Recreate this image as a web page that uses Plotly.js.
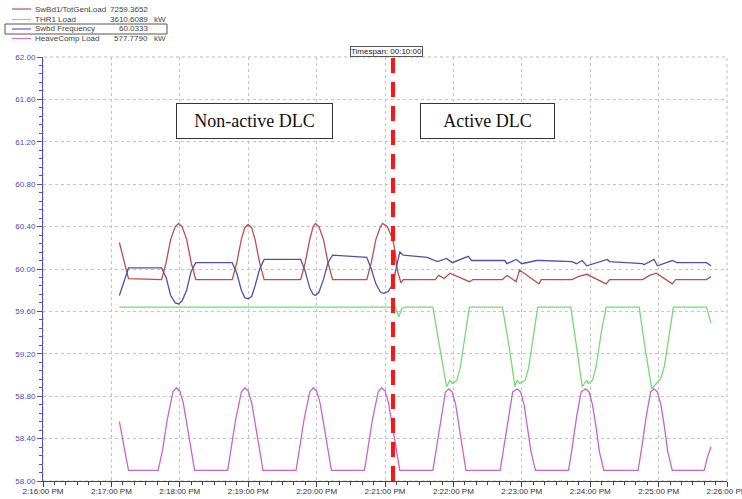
<!DOCTYPE html>
<html>
<head>
<meta charset="utf-8">
<script src="https://cdn.plot.ly/plotly-3.0.1.min.js"></script>
<style>html,body{margin:0;padding:0;background:#fff;}#chart{width:742px;height:499px;}</style>
</head>
<body>
<div id="chart"></div>
<script>
// ---- Data (time in seconds after 2:16:00 PM) ----
const seriesNames = ["SwBd1/TotGenLoad", "THR1 Load", "Swbd Frequency", "HeaveComp Load"];
const legendValues = ["7259.3652", "3610.6089", "60.0333", "577.7790"];
const legendUnits = ["", "kW", "", "kW"];
const axisStartSec = 0;
const axisEndSec = 600;
const dlcSwitchSec = 307;
const phaseLabels = ["Non-active DLC", "Active DLC"];
const timespanLabel = "Timespan: 00:10:00";

const redT = [67, 75, 104, 108, 112, 116, 119, 122, 126, 130, 134,
  166, 170, 174, 177, 180, 183, 186, 190, 194,
  226, 230, 234, 237, 239, 242, 246, 250, 254,
  284, 288, 292, 296, 298, 302, 306, 308, 311, 314, 316,
  344, 347, 352, 357, 374, 377, 403, 407, 415, 418, 435, 437, 464, 470, 477, 494, 497, 526, 532, 538, 552, 555, 582, 586];
const redV = [60.25, 59.91, 59.90, 60.06, 60.28, 60.40, 60.43, 60.40, 60.28, 60.06, 59.90,
  59.90, 60.06, 60.28, 60.39, 60.42, 60.39, 60.28, 60.06, 59.90,
  59.90, 60.06, 60.28, 60.40, 60.43, 60.40, 60.28, 60.06, 59.90,
  59.90, 60.06, 60.28, 60.40, 60.43, 60.40, 60.30, 60.22, 59.98, 59.87, 59.90,
  59.90, 59.94, 59.91, 59.96, 59.88, 59.90, 59.90, 59.94, 59.88, 59.99, 59.86, 59.90, 59.90, 59.93, 59.95, 59.86, 59.90, 59.90, 59.94, 59.96, 59.86, 59.90, 59.90, 59.93];

const greenT = [67, 309, 312, 315, 318, 342, 348, 354, 357, 359, 363, 366, 368, 371, 374,
  403, 409, 414, 416, 418, 423, 426, 428, 431, 434,
  463, 468, 473, 477, 478, 482, 485, 487, 490, 494,
  523, 528, 534, 538, 542, 545, 547, 550, 553, 582, 586];
const greenV = [59.64, 59.64, 59.55, 59.63, 59.64, 59.64, 59.26, 58.89, 58.95, 58.92, 58.95, 59.07, 59.21, 59.42, 59.64,
  59.64, 59.26, 58.89, 58.95, 58.92, 58.95, 59.07, 59.21, 59.42, 59.64,
  59.64, 59.26, 58.89, 58.95, 58.92, 58.95, 59.07, 59.21, 59.42, 59.64,
  59.64, 59.26, 58.87, 58.92, 58.97, 59.08, 59.21, 59.42, 59.64, 59.64, 59.49];

const blueT = [67, 75, 104, 108, 112, 116, 119, 122, 126, 130, 134,
  166, 170, 174, 177, 180, 183, 186, 190, 194,
  226, 230, 234, 237, 239, 242, 246, 250, 254,
  284, 288, 292, 296, 299, 303, 307, 310, 313, 316, 337, 346, 354, 359, 373, 376, 405, 407, 415, 420, 433, 437, 464, 468, 473, 477, 495, 497, 526, 527, 536, 539, 552, 556, 582, 586];
const blueV = [59.75, 60.01, 60.01, 59.92, 59.75, 59.68, 59.67, 59.70, 59.80, 59.98, 60.06,
  60.06, 59.96, 59.80, 59.73, 59.72, 59.74, 59.84, 60.00, 60.09,
  60.09, 59.98, 59.82, 59.76, 59.75, 59.78, 59.90, 60.06, 60.13,
  60.11, 60.00, 59.86, 59.78, 59.77, 59.79, 59.86, 60.02, 60.16, 60.13, 60.11, 60.07, 60.10, 60.06, 60.12, 60.08, 60.08, 60.05, 60.09, 60.05, 60.08, 60.08, 60.07, 60.05, 60.08, 60.03, 60.09, 60.07, 60.05, 60.04, 60.09, 60.03, 60.08, 60.06, 60.06, 60.03];

const magT = [67, 75,
  101, 105, 109, 114, 117, 120, 123, 126, 130, 133,
  162, 165, 169, 174, 177, 180, 183, 186, 190, 193,
  222, 225, 229, 234, 237, 240, 243, 246, 250, 253,
  282, 285, 289, 294, 297, 300, 303, 306, 310, 313,
  342, 345, 349, 353, 356, 359, 362, 365, 368, 371,
  401, 404, 408, 412, 416, 419, 422, 425, 428, 432,
  461, 464, 468, 472, 476, 479, 482, 485, 488, 492,
  522, 525, 529, 533, 536, 539, 542, 545, 548, 552,
  580, 583, 586];
const magV = [58.56, 58.10,
  58.10, 58.30, 58.58, 58.84, 58.88, 58.85, 58.74, 58.55, 58.30, 58.10,
  58.10, 58.30, 58.58, 58.84, 58.88, 58.85, 58.74, 58.55, 58.30, 58.10,
  58.10, 58.30, 58.58, 58.84, 58.88, 58.85, 58.74, 58.55, 58.30, 58.10,
  58.10, 58.30, 58.58, 58.84, 58.88, 58.85, 58.74, 58.55, 58.30, 58.10,
  58.10, 58.30, 58.60, 58.84, 58.87, 58.84, 58.72, 58.52, 58.28, 58.10,
  58.10, 58.30, 58.60, 58.84, 58.87, 58.84, 58.72, 58.52, 58.28, 58.10,
  58.10, 58.30, 58.60, 58.84, 58.87, 58.84, 58.72, 58.52, 58.28, 58.10,
  58.10, 58.30, 58.60, 58.84, 58.87, 58.84, 58.72, 58.52, 58.28, 58.10,
  58.10, 58.23, 58.32];

// ---- Helpers ----
function pad(n) { return (n < 10 ? "0" : "") + n; }
function toTime(s) {
  const tot = 16 * 60 + s;
  const m = Math.floor(tot / 60);
  const sec = Math.round(tot - m * 60);
  return "2024-01-01 14:" + pad(m) + ":" + pad(sec);
}
const W = 742, H = 499, L = 43, R = 15, T = 57, B = 18;
const PW = W - L - R, PH = H - T - B;
function px(x) { return (x - L) / PW; }
function py(y) { return (H - B - y) / PH; }

const colors = ["#bf4c4c", "#74dc74", "#5050b4", "#cc62d0"];
const legendColors = ["#c0504d", "#7fdc7f", "#5f5fb8", "#d070d8"];

const seriesT = [redT, greenT, blueT, magT];
const seriesV = [redV, greenV, blueV, magV];

const traces = seriesNames.map((name, i) => ({
  type: "scatter",
  mode: "lines",
  name: name,
  x: seriesT[i].map(toTime),
  y: seriesV[i],
  line: { color: colors[i], width: 1.3 },
  hoverinfo: "skip",
  showlegend: false
}));

const shapes = [];
const annotations = [];
const legendRowsY = [9, 19.5, 29, 38.5];
const nameFont = { family: "Liberation Sans, Arial, sans-serif", size: 8, color: "#444" };
const valFont = { family: "Liberation Sans, Arial, sans-serif", size: 8, color: "#444" };

seriesNames.forEach((name, i) => {
  const yy = py(legendRowsY[i]);
  shapes.push({ type: "line", xref: "paper", yref: "paper", x0: px(12), x1: px(31), y0: yy, y1: yy,
    line: { color: legendColors[i], width: 1.2 } });
  annotations.push({ xref: "paper", yref: "paper", x: px(34), y: yy, xanchor: "left", yanchor: "middle",
    text: name, showarrow: false, font: nameFont, borderpad: 0 });
  annotations.push({ xref: "paper", yref: "paper", x: px(149), y: yy, xanchor: "right", yanchor: "middle",
    text: legendValues[i], showarrow: false, font: valFont, borderpad: 0 });
  if (legendUnits[i]) {
    annotations.push({ xref: "paper", yref: "paper", x: px(153), y: yy, xanchor: "left", yanchor: "middle",
      text: legendUnits[i], showarrow: false, font: valFont, borderpad: 0 });
  }
});
// highlighted legend row box
shapes.push({ type: "rect", xref: "paper", yref: "paper", x0: px(5), x1: px(167), y0: py(24), y1: py(34),
  line: { color: "#555", width: 1 } });

// plot frame (top/right dotted)
shapes.push({ type: "rect", xref: "paper", yref: "paper", x0: 0, x1: 1, y0: 0, y1: 1, layer: "below",
  line: { color: "#b8b8b8", width: 1, dash: "dot" } });

// DLC switch line
shapes.push({ type: "line", xref: "x", yref: "paper", x0: toTime(dlcSwitchSec), x1: toTime(dlcSwitchSec), y0: 0, y1: 1,
  line: { color: "#ff1414", width: 4, dash: "15px,9px" } });

// phase label boxes
annotations.push({ xref: "paper", yref: "paper", x: px(254.5), y: py(120.5), xanchor: "center", yanchor: "middle",
  text: phaseLabels[0], showarrow: false, width: 151, height: 30, borderpad: 2,
  bordercolor: "#333", borderwidth: 1, bgcolor: "#fff",
  font: { family: "Liberation Serif, Times New Roman, serif", size: 18, color: "#111" } });
annotations.push({ xref: "paper", yref: "paper", x: px(487.5), y: py(120.5), xanchor: "center", yanchor: "middle",
  text: phaseLabels[1], showarrow: false, width: 129, height: 30, borderpad: 2,
  bordercolor: "#333", borderwidth: 1, bgcolor: "#fff",
  font: { family: "Liberation Serif, Times New Roman, serif", size: 18, color: "#111" } });

// timespan label
annotations.push({ xref: "paper", yref: "paper", x: px(386.5), y: py(51), xanchor: "center", yanchor: "middle",
  text: timespanLabel, showarrow: false, borderpad: 0, bordercolor: "#555", borderwidth: 1, bgcolor: "#fff",
  font: { family: "Liberation Sans, Arial, sans-serif", size: 8, color: "#222" } });

const layout = {
  width: W, height: H,
  margin: { l: L, r: R, t: T, b: B, pad: 0 },
  paper_bgcolor: "#fff", plot_bgcolor: "#fff",
  showlegend: false,
  xaxis: {
    type: "date",
    range: [toTime(axisStartSec), toTime(axisEndSec)],
    tick0: toTime(axisStartSec), dtick: 60000,
    tickformat: "%-I:%M:%S %p",
    ticks: "outside", ticklen: 5, tickcolor: "#444", tickwidth: 1,
    ticklabeloverflow: "allow", ticklabelstandoff: -3,
    showline: true, linecolor: "#444", linewidth: 1,
    showgrid: true, gridcolor: "#c4c4c4", griddash: "dot", gridwidth: 1,
    zeroline: false,
    minor: { dtick: 10000, ticks: "outside", ticklen: 3, tickcolor: "#444", showgrid: false },
    tickfont: { family: "Liberation Sans, Arial, sans-serif", size: 8, color: "#333" },
    fixedrange: true
  },
  yaxis: {
    range: [58, 62], tick0: 58, dtick: 0.4, tickformat: ".2f",
    ticks: "outside", ticklen: 5, tickcolor: "#5050c0", tickwidth: 1,
    showline: true, linecolor: "#5050c0", linewidth: 1,
    showgrid: true, gridcolor: "#c4c4c4", griddash: "dot", gridwidth: 1,
    zeroline: false,
    minor: { dtick: 0.08, ticks: "outside", ticklen: 3, tickcolor: "#5050c0", showgrid: false },
    tickfont: { family: "Liberation Sans, Arial, sans-serif", size: 8, color: "#4a4ac0" },
    fixedrange: true
  },
  shapes: shapes,
  annotations: annotations
};

Plotly.newPlot("chart", traces, layout, { staticPlot: true, displayModeBar: false });
</script>
</body>
</html>
